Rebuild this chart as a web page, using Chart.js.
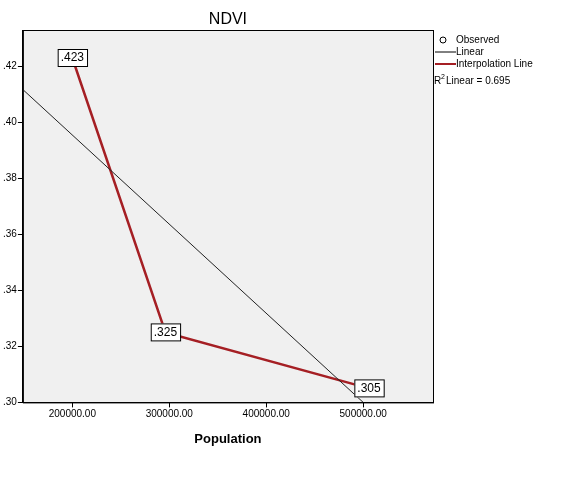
<!DOCTYPE html>
<html><head><meta charset="utf-8">
<script src="https://cdn.jsdelivr.net/npm/chart.js@4"></script>
<style>body{margin:0;background:#fff}#w{width:580px;height:482px}</style>
</head><body><div id="w"><canvas id="c"></canvas></div>
<script>
const poblacion = [200000, 296000, 506000];
const ndvi = [0.423, 0.325, 0.305];
const etiquetas = [".423", ".325", ".305"];
const lineal_x = [150000, 500000];
const lineal_y = [0.4114, 0.30];
const ticks_x = [200000, 300000, 400000, 500000];

const fondo = {
  id: "fondo",
  beforeDraw(ch) {
    const a = ch.chartArea, c = ch.ctx;
    c.save();
    c.fillStyle = "#f0f0f0";
    c.fillRect(a.left, a.top, a.right - a.left, a.bottom - a.top);
    c.strokeStyle = "#000";
    c.lineWidth = 1;
    c.strokeRect(a.left + 0.5, a.top + 0.5, a.right - a.left, a.bottom - a.top);
    c.restore();
  },
  afterDraw(ch) {
    const c = ch.ctx, m = ch.getDatasetMeta(1), a = ch.chartArea;
    c.save();
    c.fillStyle = "#000";
    c.textAlign = "center";
    c.textBaseline = "middle";
    c.font = "16px Arial, 'Liberation Sans'";
    c.fillText("NDVI", (a.left + a.right) / 2, 20);
    c.font = "12px Arial, 'Liberation Sans'";
    m.data.forEach((p, i) => {
      const t = etiquetas[i], w = c.measureText(t).width + 6;
      c.fillStyle = "#fff";
      c.fillRect(p.x - w / 2, p.y - 9, w, 18);
      c.strokeStyle = "#000";
      c.strokeRect(p.x - w / 2 + 0.5, p.y - 8.5, w, 17);
      c.fillStyle = "#000";
      c.fillText(t, p.x, p.y);
    });
    // leyenda
    c.textAlign = "left";
    c.font = "10px Arial, 'Liberation Sans'";
    c.strokeStyle = "#000";
    c.beginPath(); c.arc(443, 40, 3, 0, 2 * Math.PI); c.stroke();
    c.fillStyle = "#000";
    c.fillText("Observed", 456, 40);
    c.beginPath(); c.moveTo(435, 52); c.lineTo(456, 52); c.stroke();
    c.fillText("Linear", 456, 52);
    c.strokeStyle = "#a51f24"; c.lineWidth = 2;
    c.beginPath(); c.moveTo(435, 64); c.lineTo(456, 64); c.stroke();
    c.fillText("Interpolation Line", 456, 64);
    c.fillText("R", 434, 81);
    c.font = "7px Arial, 'Liberation Sans'";
    c.fillText("2", 441, 77);
    c.font = "10px Arial, 'Liberation Sans'";
    c.fillText("Linear = 0.695", 446, 81);
    c.restore();
  }
};

new Chart(document.getElementById("c"), {
  type: "scatter",
  data: {
    datasets: [
      {
        data: lineal_x.map((x, i) => ({ x, y: lineal_y[i] })),
        showLine: true, borderColor: "#222", borderWidth: 1, pointRadius: 0
      },
      {
        data: poblacion.map((x, i) => ({ x, y: ndvi[i] })),
        showLine: true, borderColor: "#a51f24", borderWidth: 2.5, pointRadius: 0
      }
    ]
  },
  plugins: [fondo],
  options: {
    responsive: true,
    maintainAspectRatio: false,
    animation: false,
    layout: { padding: { left: 2, right: 147, top: 30, bottom: 31 } },
    plugins: {
      legend: { display: false },
      tooltip: { enabled: false }
    },
    scales: {
      x: {
        type: "linear", min: 149000, max: 572000,
        afterBuildTicks: (s) => { s.ticks = ticks_x.map((v) => ({ value: v })); },
        ticks: { color: "#000", font: { size: 10, family: "Arial" }, padding: 1, callback: (v) => v.toFixed(2) },
        grid: { display: true, drawOnChartArea: false, tickLength: 5, tickColor: "#000" },
        border: { color: "#000" },
        title: { display: true, text: "Population", color: "#000", font: { size: 13, weight: "bold", family: "Arial" }, padding: { top: 10 } }
      },
      y: {
        min: 0.30, max: 0.433,
        afterBuildTicks: (s) => { s.ticks = [0.30, 0.32, 0.34, 0.36, 0.38, 0.40, 0.42].map((v) => ({ value: v })); },
        ticks: { color: "#000", font: { size: 10, family: "Arial" }, padding: 1, callback: (v) => v.toFixed(2).replace(/^0/, "") },
        grid: { display: true, drawOnChartArea: false, tickLength: 5, tickColor: "#000" },
        border: { color: "#000" }
      }
    }
  }
});
</script></body></html>
